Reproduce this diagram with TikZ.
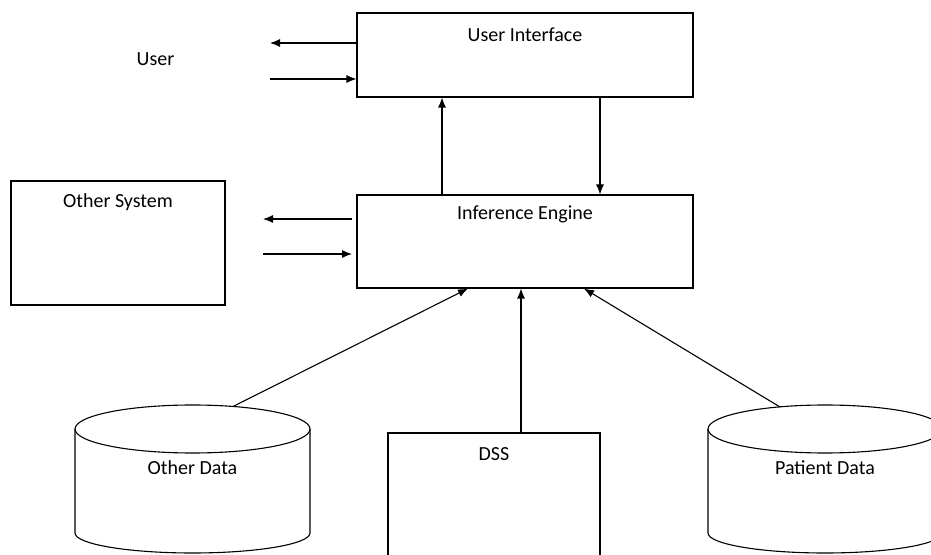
\documentclass[tikz,border=0pt]{standalone}
\usepackage{fontspec}
\setmainfont{Carlito}
\usetikzlibrary{arrows.meta}

\begin{document}
\begin{tikzpicture}[x=1pt,y=1pt,>={Latex[length=10pt,width=8pt]},
  every node/.style={font=\fontsize{20}{24}\selectfont},
  block/.style={draw,line width=1.1pt,inner sep=0pt,anchor=center},
  link/.style={->,line width=1.1pt}]

\useasboundingbox (0,0) rectangle (931,554);

% boxes
\node[block,minimum width=336,minimum height=84,
  label={[anchor=base,yshift=-29pt]north:User Interface}] (ui) at (525,499) {};
\node[block,minimum width=336,minimum height=93,
  label={[anchor=base,yshift=-25pt]north:Inference Engine}] (ie) at (525,312.5) {};
\node[block,minimum width=214,minimum height=124,
  label={[anchor=base,yshift=-27pt]north:Other System}] (os) at (118,311) {};
\node[block,minimum width=212,minimum height=150,
  label={[anchor=base,yshift=-28.5pt]north:DSS}] (dss) at (494,46) {};
\node[anchor=base] (user) at (155.5,488) {User};

% cylinders
\draw[line width=1.1pt] (75,125) -- (75,21)
  arc[start angle=180,end angle=360,x radius=117.5,y radius=20] -- (310,125);
\draw[line width=1.1pt] (192.5,125) ellipse [x radius=117.5,y radius=24];
\node[anchor=base] (odata) at (192.5,79) {Other Data};
\draw[line width=1.1pt] (708,125) -- (708,21)
  arc[start angle=180,end angle=360,x radius=117,y radius=20] -- (942,125);
\draw[line width=1.1pt] (825,125) ellipse [x radius=117,y radius=24];
\node[anchor=base] (pdata) at (825,79) {Patient Data};
\coordinate (odtop) at (233,147.5);
\coordinate (pdtop) at (780,147);

% user side
\coordinate (uiout) at (270,511);
\coordinate (uiin) at (270,475);
\draw[link] ([yshift=12pt]ui.west) -- (uiout);
\draw[link] (uiin) -- ([yshift=-24pt]ui.west);

% other system side
\coordinate (iesend) at (352,335);
\coordinate (osrecv) at (263,335);
\coordinate (ossend) at (263,300);
\coordinate (ierecv) at (352,300);
\draw[link] (iesend) -- (osrecv);
\draw[link] (ossend) -- (ierecv);

% engine and interface
\draw[link] ([xshift=-83pt]ie.north) -- ([xshift=-83pt]ui.south);
\draw[link] ([xshift=75pt]ui.south) -- ([xshift=75pt]ie.north);

% data into engine
\draw[link] (odtop) -- ([xshift=-57pt]ie.south);
\draw[link] ([xshift=27pt]dss.north) -- ([xshift=-4pt]ie.south);
\draw[link] (pdtop) -- ([xshift=59pt]ie.south);

\end{tikzpicture}
\end{document}
